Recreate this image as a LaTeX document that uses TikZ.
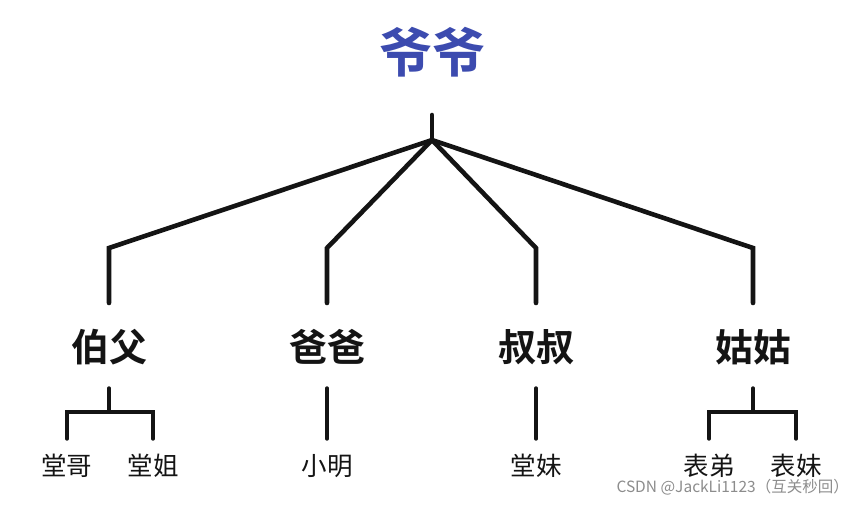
\documentclass[tikz,border=0pt]{standalone}
\usepackage{fontspec}
\newfontfamily\cjk{Noto Sans CJK SC}
\newfontfamily\cjkb{Noto Sans CJK SC Bold}
\definecolor{titleblue}{RGB}{60,75,175}
\definecolor{linegray}{RGB}{20,20,20}
\begin{document}
\begin{tikzpicture}[x=1pt,y=-1pt,
  main/.style={draw=linegray,line width=4.6pt,line cap=round,line join=miter},
  sub/.style={draw=linegray,line width=3.4pt,line cap=round},
  lvl/.style={font=\cjkb\fontsize{38}{42}\selectfont,text=linegray,inner sep=0pt},
  kid/.style={font=\cjk\fontsize{25.5}{28}\selectfont,text=linegray,inner sep=0pt},
]
\useasboundingbox (0,0) rectangle (865,504);
\node[font=\cjkb\fontsize{53}{56}\selectfont,text=titleblue,inner sep=0pt] (root) at (432,52) {爷爷};
\coordinate (rtop) at (432,115);
\coordinate (hub) at (432,140);
\node[lvl] (a) at (109,347) {伯父};
\node[lvl] (b) at (327,347) {爸爸};
\node[lvl] (c) at (536,347) {叔叔};
\node[lvl] (d) at (753,347) {姑姑};
\coordinate (ak) at (109,248); \coordinate (ae) at (109,303);
\coordinate (bk) at (327,248); \coordinate (be) at (327,303);
\coordinate (ck) at (536,248); \coordinate (ce) at (536,303);
\coordinate (dk) at (753,248); \coordinate (de) at (753,303);
\draw[main] (rtop) -- (hub);
\draw[main] (hub) -- (ak) -- (ae);
\draw[main] (hub) -- (bk) -- (be);
\draw[main] (hub) -- (ck) -- (ce);
\draw[main] (hub) -- (dk) -- (de);
\node[kid] (a1) at (67,466) {堂哥};
\node[kid] (a2) at (153,466) {堂姐};
\node[kid] (b1) at (327,466) {小明};
\node[kid] (c1) at (536,466) {堂妹};
\node[kid] (d1) at (709,466) {表弟};
\node[kid] (d2) at (796,466) {表妹};
\draw[sub] (109,388) -- (109,412);
\draw[sub] (a1.north |- 0,439) -- (a1.north |- 0,412) -- (a2.north |- 0,412) -- (a2.north |- 0,439);
\draw[sub] (327,388) -- (b1.north |- 0,439);
\draw[sub] (536,388) -- (c1.north |- 0,439);
\draw[sub] (753,388) -- (753,412);
\draw[sub] (d1.north |- 0,439) -- (d1.north |- 0,412) -- (d2.north |- 0,412) -- (d2.north |- 0,439);
\node[font=\cjk\fontsize{15.5}{17}\selectfont,text=black!45,inner sep=0pt,anchor=east] (wm) at (849,487) {CSDN @JackLi1123（互关秒回）};
\end{tikzpicture}
\end{document}
